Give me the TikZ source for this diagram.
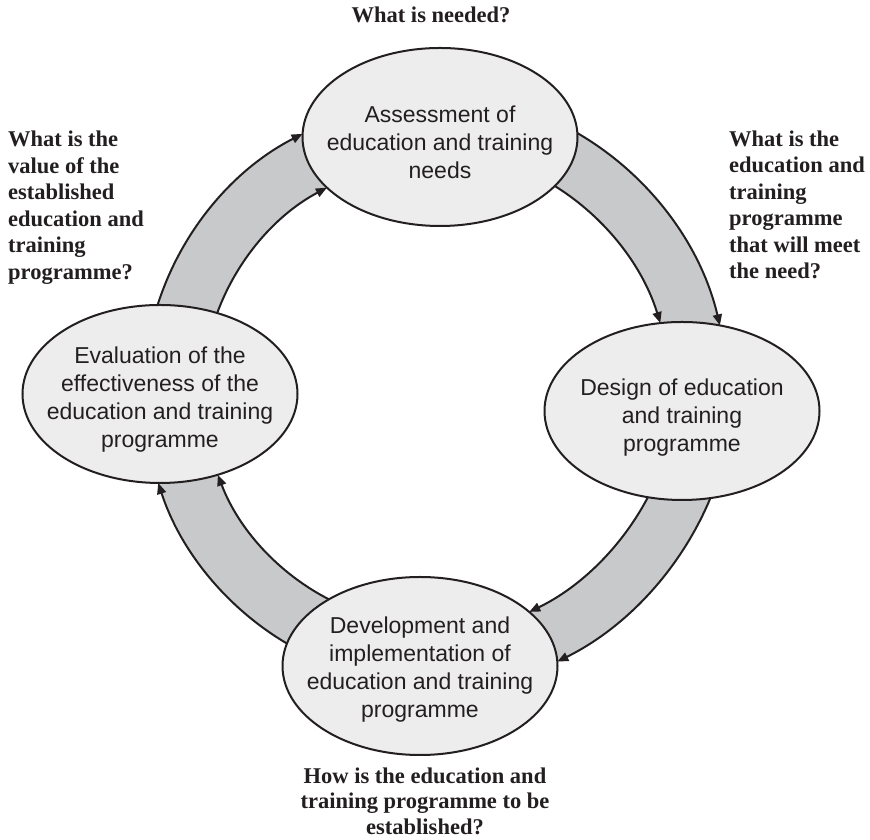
\documentclass[tikz,border=0pt]{standalone}
\usepackage{fontspec}
\setmainfont{Liberation Serif}
\setsansfont{Liberation Sans}
\usetikzlibrary{shapes.geometric,arrows.meta,calc,intersections}
\definecolor{ink}{HTML}{231F20}
\definecolor{ellfill}{HTML}{EDEDED}
\definecolor{bandgray}{HTML}{C8C9CB}
\tikzset{
  stage/.style={ellipse, draw=ink, line width=2pt, fill=ellfill,
    minimum width=275pt, minimum height=178pt, inner xsep=-30pt, inner ysep=0pt,
    align=center, text=ink, font=\sffamily\fontsize{23}{28}\selectfont},
  question/.style={font=\rmfamily\bfseries\fontsize{22.5}{26.5}\selectfont, text=ink, inner sep=0pt},
  bandbody/.style={fill=bandgray},
  edgeline/.style={draw=ink, line width=2pt, -{Triangle[length=11pt,width=9pt]}},
}
\newcommand\lift[1]{\rule{0pt}{#1pt}}
% center, inner radius, outer radius, start angle, end angle
\newcommand\bandshape[5]{%
  \fill[bandbody] ($(#1)+(#4:#3)$) arc[start angle=#4, end angle=#5, radius=#3]
    -- ($(#1)+(#5:#2)$) arc[start angle=#5, end angle=#4, radius=#2] -- cycle;
}
% center, radius, start angle, end angle, source path, target path
\newcommand\bandedge[6]{%
  \path[name path=tmparc] ($(#1)+(#3:#2)$) arc[start angle=#3, end angle=#4, radius=#2];
  \path[name intersections={of=#5 and tmparc, by=isS}];
  \path[name intersections={of=#6 and tmparc, by=isE}];
  \draw[edgeline] let \p1=($(isS)-(#1)$), \p2=($(isE)-(#1)$),
      \n1={atan2(\y1,\x1)}, \n2={atan2(\y2,\x2)} in
      (isS) arc[start angle=\n1, end angle=\n2, radius=#2];
}
\begin{document}
\begin{tikzpicture}[x=1pt,y=1pt]
\useasboundingbox (0,0) rectangle (870,840);
\fill[white] (0,0) rectangle (870,840);
\coordinate (cTR) at (425,445);
\coordinate (cRB) at (415,465);
\coordinate (cL) at (435,447);
% band bodies
\bandshape{cTR}{246}{303}{75}{5}
\bandshape{cRB}{263}{320}{-15}{-70}
\bandshape{cL}{232}{291}{-112}{-170}
\bandshape{cL}{232}{291}{170}{108}
% stages
\node[stage] (T) at (440,703) {\lift{26.5}Assessment of\\education and training\\needs};
\node[stage] (R) at (682,429) {\lift{30.5}Design of education\\and training\\programme};
\node[stage] (B) at (420,174) {\lift{24.5}Development and\\implementation of\\education and training\\programme};
\node[stage] (L) at (160,446) {\lift{28.5}Evaluation of the\\effectiveness of the\\education and training\\programme};
\path[name path=pT] (T.center) ellipse[x radius=137.5, y radius=89];
\path[name path=pR] (R.center) ellipse[x radius=137.5, y radius=89];
\path[name path=pB] (B.center) ellipse[x radius=137.5, y radius=89];
\path[name path=pL] (L.center) ellipse[x radius=137.5, y radius=89];
% band edges with arrowheads
\bandedge{cTR}{303}{75}{5}{pT}{pR}
\bandedge{cTR}{246}{75}{5}{pT}{pR}
\bandedge{cRB}{320}{-15}{-70}{pR}{pB}
\bandedge{cRB}{263}{-15}{-70}{pR}{pB}
\bandedge{cL}{291}{-112}{-170}{pB}{pL}
\bandedge{cL}{232}{-112}{-170}{pB}{pL}
\bandedge{cL}{291}{170}{108}{pL}{pT}
\bandedge{cL}{232}{170}{108}{pL}{pT}
% questions
\node[question, anchor=north] (q1) at (431,833.5) {What is needed?};
\node[question, anchor=north west, align=left] (q2) at (729,709.5) {What is the\\education and\\training\\programme\\that will meet\\the need?};
\node[question, anchor=north west, align=left] (q4) at (8,709) {What is the\\value of the\\established\\education and\\training\\programme?};
\node[question, anchor=north, align=center, font=\rmfamily\bfseries\fontsize{22.5}{25.5}\selectfont] (q3) at (425,72.5) {How is the education and\\training programme to be\\established?};
\end{tikzpicture}
\end{document}
